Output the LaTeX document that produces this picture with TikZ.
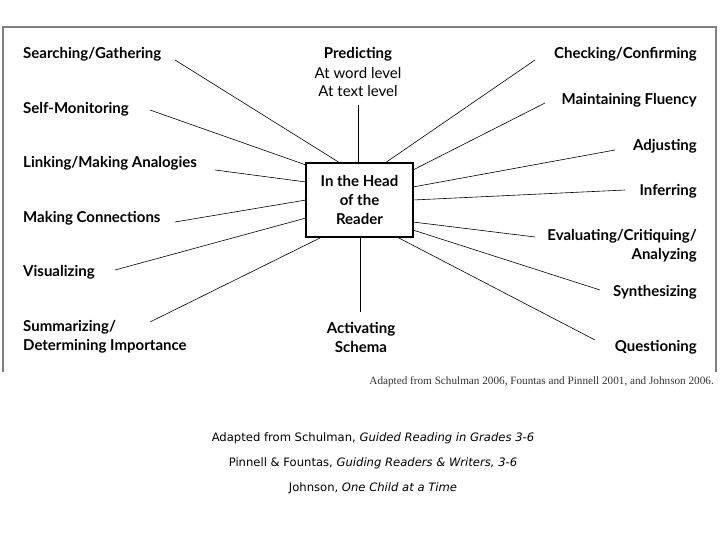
\documentclass[tikz,border=0pt]{standalone}
\usepackage{fontspec}
\setmainfont{Lato}
\newfontfamily\capfont{Liberation Serif}
\newfontfamily\notefont{DejaVu Sans}
\begin{document}
\begin{tikzpicture}[x=1pt,y=-1pt,
  lab/.style={font=\bfseries\fontsize{15}{19}\selectfont,inner sep=0pt,align=center},
  sub/.style={font=\fontsize{15}{19}\selectfont,inner sep=0pt},
  con/.style={line width=0.6pt},
  note/.style={font=\notefont\fontsize{11.6}{13}\selectfont,inner sep=0pt}]
\useasboundingbox (0,0) rectangle (720,540);
\draw[gray,line width=1.2pt] (3,372) -- (3,27) -- (716,27) -- (716,372);
\node[draw,line width=1.5pt,minimum width=107pt,minimum height=74pt,lab,align=center] (c) at (359.5,200) {In the Head\\of the\\Reader};
\node[lab,anchor=west] (a1) at (23,54) {Searching/Gathering};
\node[lab,anchor=west] (a2) at (23,109) {Self-Monitoring};
\node[lab,anchor=west] (a3) at (23,163) {Linking/Making Analogies};
\node[lab,anchor=west] (a4) at (23,218) {Making Connections};
\node[lab,anchor=west] (a5) at (23,272) {Visualizing};
\node[lab,anchor=west,align=left] (a6) at (23,337) {Summarizing/\\Determining Importance};
\node[lab] (p) at (358,54) {Predicting};
\node[sub] (p2) at (358,73) {At word level};
\node[sub] (p3) at (358,91) {At text level};
\node[lab] (s) at (361,337) {Activating\\Schema};
\node[lab,anchor=east] (b1) at (697,54) {Checking/Confirming};
\node[lab,anchor=east] (b2) at (697,100) {Maintaining Fluency};
\node[lab,anchor=east] (b3) at (697,146) {Adjusting};
\node[lab,anchor=east] (b4) at (697,191) {Inferring};
\node[lab,anchor=east,align=right] (b5) at (697,246) {Evaluating/Critiquing/\\Analyzing};
\node[lab,anchor=east] (b6) at (697,292) {Synthesizing};
\node[lab,anchor=east] (b7) at (697,347) {Questioning};
\coordinate (e1) at (175,60); \coordinate (e2) at (150,110); \coordinate (e3) at (215,170);
\coordinate (e4) at (175,222); \coordinate (e5) at (115,270); \coordinate (e6) at (150,322);
\coordinate (ep) at (358,105); \coordinate (es) at (360,312);
\coordinate (f1) at (535,60); \coordinate (f2) at (545,103); \coordinate (f3) at (615,150);
\coordinate (f4) at (625,190); \coordinate (f5) at (535,237); \coordinate (f6) at (600,290);
\coordinate (f7) at (595,340);
\draw[con] (e1) -- (340,163);
\draw[con] (e2) -- (306,165);
\draw[con] (e3) -- (306,182);
\draw[con] (e4) -- (306,200);
\draw[con] (e5) -- (306,218);
\draw[con] (e6) -- (322,237);
\draw[con] (ep) -- (c.north -| ep);
\draw[con] (es) -- (c.south -| es);
\draw[con] (f1) -- (385,163);
\draw[con] (f2) -- (413,170);
\draw[con] (f3) -- (413,187);
\draw[con] (f4) -- (413,200);
\draw[con] (f5) -- (413,222);
\draw[con] (f6) -- (413,230);
\draw[con] (f7) -- (397,237);
\node[font=\capfont\fontsize{11.2}{12}\selectfont,anchor=east,inner sep=0pt,text=black!80] (cap) at (714,382) {Adapted from Schulman 2006, Fountas and Pinnell 2001, and Johnson 2006.};
\node[note] (n1) at (373,438) {Adapted from Schulman, \textit{Guided Reading in Grades 3-6}};
\node[note] (n2) at (373,463) {Pinnell \& Fountas, \textit{Guiding Readers \& Writers, 3-6}};
\node[note] (n3) at (373,488) {Johnson, \textit{One Child at a Time}};
\end{tikzpicture}
\end{document}
